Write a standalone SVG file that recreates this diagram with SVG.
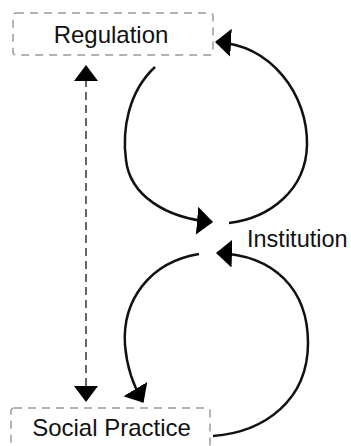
<svg xmlns="http://www.w3.org/2000/svg" width="351" height="446" viewBox="0 0 351 446">
<style>
.box{fill:none;stroke:#9a9a9a;stroke-width:1.5;stroke-dasharray:8 6}
.lbl{font-family:"Liberation Sans",Arial,sans-serif;font-size:24px;fill:#111}
.curve{fill:none;stroke:#111;stroke-width:2.5}
.dash{fill:none;stroke:#333;stroke-width:1.5;stroke-dasharray:8 5}
</style>
<defs>
<marker id="ah" viewBox="0 0 16 28" refX="15" refY="14" markerWidth="16" markerHeight="28" markerUnits="userSpaceOnUse" orient="auto">
<path d="M0,0 L16,14 L0,28 z" fill="#000"/>
</marker>
<marker id="ad" viewBox="0 0 16 24" refX="15" refY="12" markerWidth="16" markerHeight="24" markerUnits="userSpaceOnUse" orient="auto-start-reverse">
<path d="M0,0 L16,12 L0,24 z" fill="#000"/>
</marker>
</defs>
<g id="regulation">
<rect class="box" x="13" y="13" width="200" height="42" rx="3"/>
<text class="lbl" x="111" y="43" text-anchor="middle">Regulation</text>
</g>
<g id="social-practice">
<rect class="box" x="11" y="408" width="199" height="60" rx="3"/>
<text class="lbl" x="111.5" y="436" text-anchor="middle">Social Practice</text>
</g>
<g id="institution">
<text class="lbl" x="247" y="247" style="font-size:23.5px">Institution</text>
</g>
<g id="connectors">
<path class="dash" d="M86,66 L86,401" marker-start="url(#ad)" marker-end="url(#ad)"/>
<path class="curve" d="M155,67 C128,92 122,130 126,160 C130,195 165,218 212,222" marker-end="url(#ah)"/>
<path class="curve" d="M229,223 C270,218 306,190 307,145 C308,95 272,45 216,42" marker-end="url(#ah)"/>
<path class="curve" d="M199,254 C150,262 122,300 125,345 C127,370 134,387 143,402" marker-end="url(#ah)"/>
<path class="curve" d="M213,436 C265,432 308,400 308,343 C308,290 275,255 217,253" marker-end="url(#ah)"/>
</g>
</svg>
